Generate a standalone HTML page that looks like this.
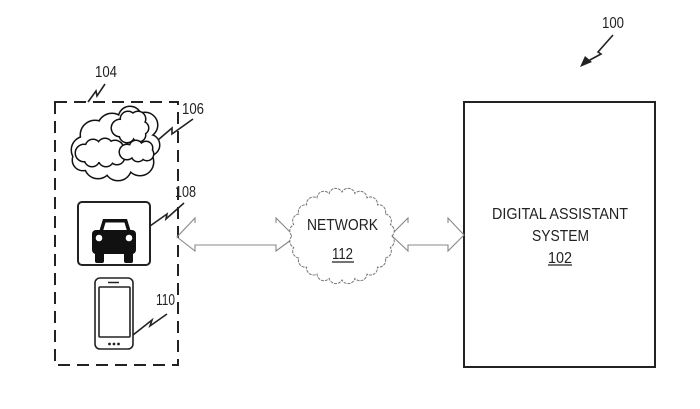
<!DOCTYPE html>
<html>
<head>
<meta charset="utf-8">
<style>
  html,body{margin:0;padding:0;background:#fff;}
  svg{display:block;}
  text{font-family:"Liberation Sans","DejaVu Sans",sans-serif;fill:#222;}
</style>
</head>
<body>
<svg width="700" height="409" viewBox="0 0 700 409" xmlns="http://www.w3.org/2000/svg">
  <rect x="0" y="0" width="700" height="409" fill="#fff"/>

  <!-- Label 100 with arrow -->
  <text x="602" y="28" font-size="16" textLength="22" lengthAdjust="spacingAndGlyphs">100</text>
  <path d="M613,35 L598,52 L601,54 L588,61" fill="none" stroke="#222" stroke-width="1.6"/>
  <polygon points="580,67 585,56 592,62" fill="#222"/>

  <!-- Digital assistant system box -->
  <rect x="464" y="102" width="191" height="265" fill="#fff" stroke="#222" stroke-width="2"/>
  <text x="492" y="219" font-size="16" textLength="136" lengthAdjust="spacingAndGlyphs">DIGITAL ASSISTANT</text>
  <text x="532" y="241" font-size="16" textLength="57" lengthAdjust="spacingAndGlyphs">SYSTEM</text>
  <text x="548" y="263" font-size="16" textLength="24" lengthAdjust="spacingAndGlyphs">102</text>
  <line x1="548" y1="265" x2="572" y2="265" stroke="#222" stroke-width="1.2"/>

  <!-- Dashed device group box 104 -->
  <rect x="55" y="102" width="123" height="263" fill="none" stroke="#222" stroke-width="2" stroke-dasharray="12 7"/>
  <text x="95" y="77" font-size="16" textLength="22" lengthAdjust="spacingAndGlyphs">104</text>
  <path d="M88,102 L96,91 L97,96 L105,84" fill="none" stroke="#222" stroke-width="1.6"/>

  <!-- Cloud 106 : outer -->
  <g stroke="#111" stroke-width="3" fill="#fff">
    <circle cx="85" cy="150" r="13"/><circle cx="95" cy="135" r="14"/><circle cx="112" cy="128" r="14"/>
    <circle cx="130" cy="118" r="11"/><circle cx="145" cy="125" r="12"/><circle cx="149" cy="145" r="10"/>
    <circle cx="140" cy="162" r="13"/><circle cx="118" cy="167" r="13"/><circle cx="98" cy="165" r="13"/>
    <circle cx="83" cy="160" r="10"/><circle cx="115" cy="148" r="25"/>
  </g>
  <g fill="#fff" stroke="none">
    <circle cx="85" cy="150" r="13"/><circle cx="95" cy="135" r="14"/><circle cx="112" cy="128" r="14"/>
    <circle cx="130" cy="118" r="11"/><circle cx="145" cy="125" r="12"/><circle cx="149" cy="145" r="10"/>
    <circle cx="140" cy="162" r="13"/><circle cx="118" cy="167" r="13"/><circle cx="98" cy="165" r="13"/>
    <circle cx="83" cy="160" r="10"/><circle cx="115" cy="148" r="25"/>
  </g>
  <!-- inner left puff -->
  <g stroke="#111" stroke-width="3" fill="#fff">
    <circle cx="84" cy="153" r="8"/><circle cx="93" cy="147" r="7"/><circle cx="105" cy="146" r="7"/>
    <circle cx="115" cy="149" r="8"/><circle cx="117" cy="157" r="7"/><circle cx="106" cy="159" r="7"/>
    <circle cx="92" cy="159" r="7"/><circle cx="100" cy="153" r="9"/>
  </g>
  <g fill="#fff">
    <circle cx="84" cy="153" r="8"/><circle cx="93" cy="147" r="7"/><circle cx="105" cy="146" r="7"/>
    <circle cx="115" cy="149" r="8"/><circle cx="117" cy="157" r="7"/><circle cx="106" cy="159" r="7"/>
    <circle cx="92" cy="159" r="7"/><circle cx="100" cy="153" r="9"/>
  </g>
  <!-- inner top-right puff -->
  <g stroke="#111" stroke-width="3" fill="#fff">
    <circle cx="120" cy="128" r="8"/><circle cx="128" cy="119" r="7"/><circle cx="138" cy="119" r="7"/>
    <circle cx="142" cy="128" r="6"/><circle cx="139" cy="135" r="6"/><circle cx="127" cy="135" r="7"/>
    <circle cx="130" cy="128" r="10"/>
  </g>
  <g fill="#fff">
    <circle cx="120" cy="128" r="8"/><circle cx="128" cy="119" r="7"/><circle cx="138" cy="119" r="7"/>
    <circle cx="142" cy="128" r="6"/><circle cx="139" cy="135" r="6"/><circle cx="127" cy="135" r="7"/>
    <circle cx="130" cy="128" r="10"/>
  </g>
  <!-- inner lower-right puff -->
  <g stroke="#111" stroke-width="3" fill="#fff">
    <circle cx="127" cy="152" r="7"/><circle cx="136" cy="147" r="6"/><circle cx="146" cy="148" r="6"/>
    <circle cx="147" cy="154" r="6"/><circle cx="138" cy="155" r="6"/><circle cx="137" cy="151" r="7"/>
  </g>
  <g fill="#fff">
    <circle cx="127" cy="152" r="7"/><circle cx="136" cy="147" r="6"/><circle cx="146" cy="148" r="6"/>
    <circle cx="147" cy="154" r="6"/><circle cx="138" cy="155" r="6"/><circle cx="137" cy="151" r="7"/>
  </g>
  <text x="182" y="114" font-size="16" textLength="22" lengthAdjust="spacingAndGlyphs">106</text>
  <path d="M158,140 L172,128 L172,134 L193,119" fill="none" stroke="#222" stroke-width="1.6"/>

  <!-- Car 108 -->
  <rect x="78" y="202" width="72" height="63" rx="4" fill="#fff" stroke="#222" stroke-width="2"/>
  <polygon points="99,232 103,219 127,219 131,232" fill="#111"/>
  <polygon points="103,231 105.5,222.5 124.5,222.5 127,231" fill="#fff"/>
  <rect x="92" y="230" width="44" height="24" rx="4" fill="#111"/>
  <rect x="95" y="250" width="9" height="13" rx="2" fill="#111"/>
  <rect x="124" y="250" width="9" height="13" rx="2" fill="#111"/>
  <circle cx="99" cy="238" r="3.3" fill="#fff"/>
  <circle cx="129" cy="238" r="3.3" fill="#fff"/>
  <text x="175" y="197" font-size="16" textLength="21" lengthAdjust="spacingAndGlyphs">108</text>
  <path d="M150,226 L167,214 L166,219 L184,203" fill="none" stroke="#222" stroke-width="1.6"/>

  <!-- Phone 110 -->
  <rect x="95" y="278" width="38" height="71" rx="5" fill="#fff" stroke="#222" stroke-width="1.6"/>
  <rect x="99" y="287" width="31" height="50" rx="1" fill="#fff" stroke="#222" stroke-width="1.6"/>
  <line x1="108" y1="282.5" x2="119" y2="282.5" stroke="#222" stroke-width="1.5"/>
  <circle cx="109.5" cy="344" r="1.4" fill="#222"/>
  <circle cx="114" cy="344" r="1.4" fill="#222"/>
  <circle cx="118.5" cy="344" r="1.4" fill="#222"/>
  <text x="156" y="305" font-size="16" textLength="19" lengthAdjust="spacingAndGlyphs">110</text>
  <path d="M133,335 L152,320 L150,326 L167,314" fill="none" stroke="#222" stroke-width="1.6"/>

  <!-- Left double arrow -->
  <path d="M195,223 L195,218 L177,237 L195,251 L195,245 L276,245 L276,251 L295,237 L276,218 L276,223"
        fill="none" stroke="#888" stroke-width="1.1"/>
  <!-- Right double arrow -->
  <path d="M408,223 L408,218 L391,235 L408,251 L408,245 L448,245 L448,251 L464,235 L448,218 L448,223"
        fill="none" stroke="#888" stroke-width="1.1"/>

  <!-- Network cloud 112 -->
  <path d="M392,236 A7,7 0 0 1 390.3,247.4 A7,7 0 0 1 385.3,258 A7,7 0 0 1 377.4,267.1 A7,7 0 0 1 367,274.1
           A7,7 0 0 1 354.9,278.5 A7,7 0 0 1 342,280 A7,7 0 0 1 329.1,278.5 A7,7 0 0 1 317,274.1
           A7,7 0 0 1 306.6,267.1 A7,7 0 0 1 298.7,258 A7,7 0 0 1 293.7,247.4 A7,7 0 0 1 292,236
           A7,7 0 0 1 293.7,224.6 A7,7 0 0 1 298.7,214 A7,7 0 0 1 306.6,204.9 A7,7 0 0 1 317,197.9
           A7,7 0 0 1 329.1,193.5 A7,7 0 0 1 342,192 A7,7 0 0 1 354.9,193.5 A7,7 0 0 1 367,197.9
           A7,7 0 0 1 377.4,204.9 A7,7 0 0 1 385.3,214 A7,7 0 0 1 390.3,224.6 A7,7 0 0 1 392,236 Z"
        fill="#fff" stroke="#777" stroke-width="1" stroke-dasharray="3 1"/>
  <text x="307" y="230" font-size="16" textLength="71" lengthAdjust="spacingAndGlyphs">NETWORK</text>
  <text x="332" y="259" font-size="16" textLength="21" lengthAdjust="spacingAndGlyphs">112</text>
  <line x1="332" y1="262" x2="354" y2="262" stroke="#222" stroke-width="1.2"/>
</svg>
</body>
</html>
